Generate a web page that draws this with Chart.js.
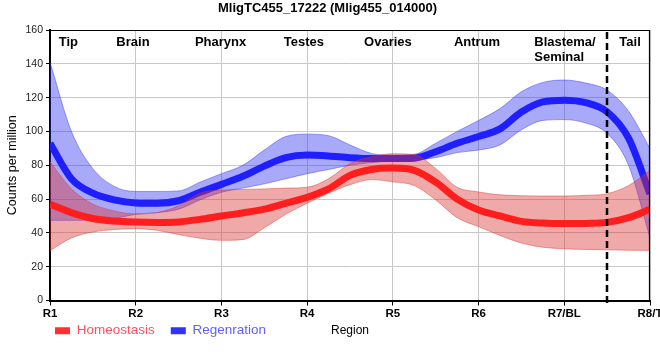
<!DOCTYPE html>
<html>
<head>
<meta charset="utf-8">
<script src="https://cdn.jsdelivr.net/npm/chart.js@4.4.1/dist/chart.umd.min.js"></script>
<style>
html,body{margin:0;padding:0;background:#fff;overflow:hidden;}
canvas{display:block;}
</style>
</head>
<body>
<canvas id="c" width="660" height="360"></canvas>
<script>
// ---- data ----
const regions = ['R1','R2','R3','R4','R5','R6','R7/BL','R8/T'];
const sectionNames = ['Tip','Brain','Pharynx','Testes','Ovaries','Antrum','Blastema/\nSeminal','Tail'];
const samplePos = [0,0.25,0.5,0.75,1,1.25,1.5,1.75,2,2.25,2.5,2.75,3,3.25,3.5,3.75,4,4.25,4.5,4.75,5,5.25,5.5,5.75,6,6.25,6.5,6.75,7];
const homeoMean  = [57,52,48.5,47,46.4,46.2,46.5,48,50,51.8,54,57.5,61,66,74,77.5,78.3,77,70,60,53.5,50,46.8,45.8,45.5,45.6,46.2,49,54];
const homeoUpper = [82,66,57,53,51.2,52,56,63.5,65.3,65.7,66,66.5,67,72,81,85,86.8,86.3,78,67,64.2,62.5,62,61.8,61.8,62.2,63.2,68,77];
const homeoLower = [29.5,37,40.5,42,42.5,41.5,39,36.8,35.6,36,43,51,57.5,63.5,68.5,71.5,70.2,68,59.5,49,43.7,38.5,34,31.5,30.6,30.2,30,29.7,29.6];
const regenMean  = [93,72,63.5,59.5,57.7,57.5,59,64,68.7,73.5,79.5,84.5,86,85.5,84.5,84,84,84.2,88,93,97,101.5,111.5,117.5,118.5,117,111.6,96,63];
const regenUpper = [141,100,78,67.5,64.5,64.5,64.8,70,75,80,89,97,98.4,97.5,92,87,86,86.5,93,100,106.5,113.5,123.5,129,130.4,128.6,124.4,112,90];
const regenLower = [47.4,47.4,47.6,48.5,51,52,54,59.5,64,66.5,69,72,75,77.5,80,81.5,82.6,83,84.5,87.5,89,92,101,106.5,107,105,98.8,80,37];
const seriesNames = ['Homeostasis','Regenration'];

// ---- layout / style (not data) ----
const sectionLabelAt = [0.214,0.968,1.99,2.963,3.943,4.982,5.65,6.767];
const dividerAt = 6.5;

const pts = arr => arr.map((v,i)=>({x:samplePos[i], y:v}));
Chart.defaults.font.family = "'Liberation Sans', Arial, sans-serif";
Chart.defaults.color = '#000';

const RED = 'rgb(255,30,30)', BLUE = 'rgb(30,30,255)';
const RED_BAND = 'rgba(220,50,50,0.42)', BLUE_BAND = 'rgba(50,50,240,0.42)';

const extras = {
  id:'extras',
  afterLayout(chart){
    const lg = chart.legend;
    lg.left += 34; lg.right += 34;
    lg.top = 308; lg.bottom = 352;
  },
  afterDraw(chart){
    const {ctx, chartArea:a, scales:{x}} = chart;
    ctx.save();
    // top and right frame
    ctx.strokeStyle = '#000'; ctx.lineWidth = 1.2;
    ctx.beginPath();
    ctx.moveTo(a.left, a.top + 0.5); ctx.lineTo(a.right, a.top + 0.5);
    ctx.moveTo(a.right - 0.5, a.top); ctx.lineTo(a.right - 0.5, a.bottom);
    ctx.stroke();
    // dashed divider
    const dx = Math.round(x.getPixelForValue(dividerAt));
    ctx.setLineDash([7,4]); ctx.lineWidth = 2.5;
    ctx.beginPath(); ctx.moveTo(dx, a.top + 2); ctx.lineTo(dx, a.bottom + 6); ctx.stroke();
    ctx.setLineDash([]);
    // section labels
    ctx.fillStyle = '#000';
    ctx.font = "bold 13px 'Liberation Sans', Arial, sans-serif";
    ctx.textBaseline = 'alphabetic';
    sectionNames.forEach((n,i)=>{
      const px = x.getPixelForValue(sectionLabelAt[i]);
      const lines = n.split('\n');
      ctx.textAlign = lines.length > 1 ? 'left' : 'center';
      lines.forEach((l,j)=> ctx.fillText(l, px, a.top + 16 + j*14.5));
    });
    // axis title on legend row
    ctx.font = "12px 'Liberation Sans', Arial, sans-serif";
    ctx.textAlign = 'center'; ctx.textBaseline = 'middle';
    ctx.fillText('Region', (a.left + a.right)/2, 331);
    ctx.restore();
  }
};

new Chart(document.getElementById('c'), {
  type:'line',
  data:{ datasets:[
    {label:seriesNames[0], data:pts(homeoMean), borderColor:RED, backgroundColor:RED, borderWidth:7, fill:false, order:0},
    {label:'hU', data:pts(homeoUpper), borderColor:'rgba(220,50,50,0.45)', backgroundColor:RED_BAND, borderWidth:1, fill:'+1', order:1},
    {label:'hL', data:pts(homeoLower), borderColor:'rgba(220,50,50,0.45)', borderWidth:1, fill:false, order:1},
    {label:seriesNames[1], data:pts(regenMean), borderColor:BLUE, backgroundColor:BLUE, borderWidth:7, fill:false, order:2},
    {label:'rU', data:pts(regenUpper), borderColor:'rgba(50,50,240,0.45)', backgroundColor:BLUE_BAND, borderWidth:1, fill:'+1', order:3},
    {label:'rL', data:pts(regenLower), borderColor:'rgba(50,50,240,0.45)', borderWidth:1, fill:false, order:3}
  ]},
  options:{
    responsive:false, animation:false,
    elements:{ point:{radius:0}, line:{cubicInterpolationMode:'monotone', borderJoinStyle:'round'} },
    layout:{ padding:{left:5, right:10, top:0, bottom:0} },
    plugins:{
      tooltip:{enabled:false},
      title:{ display:true, text:'MligTC455_17222 (Mlig455_014000)', color:'#000',
        font:{size:13, weight:'bold'}, padding:{top:1, bottom:13.4} },
      legend:{ position:'bottom', align:'start', maxHeight:40,
        labels:{ boxWidth:15, boxHeight:7, padding:16, font:{size:13.5},
          generateLabels: () => [
            {text:seriesNames[0], fillStyle:'#ff3030', strokeStyle:'#ff3030', lineWidth:0, fontColor:'#ff5060', datasetIndex:0},
            {text:seriesNames[1], fillStyle:'#3030ff', strokeStyle:'#3030ff', lineWidth:0, fontColor:'#6060ff', datasetIndex:3}
          ] } }
    },
    scales:{
      x:{ type:'linear', min:0, max:7,
        ticks:{ stepSize:1, autoSkip:false, maxRotation:0, padding:1, color:'#000',
          font:{size:11.5, weight:'bold'}, callback:v => regions[v] },
        grid:{ color:'#c8c8c8', tickColor:'#000', tickLength:5 },
        border:{ color:'#000', width:2 },
        afterFit:s => { s.height = 20; s.paddingLeft = 0; s.paddingRight = 0; } },
      y:{ min:0, max:160,
        ticks:{ stepSize:20, padding:3, color:'#222', font:{size:10.5} },
        grid:{ color:'#c8c8c8', tickColor:'#000', tickLength:4 },
        border:{ color:'#000', width:2 },
        title:{ display:true, text:'Counts per million', color:'#000', font:{size:12.5}, padding:0 },
        afterFit:s => { s.width = 45; } }
    }
  },
  plugins:[extras]
});
</script>
</body>
</html>
